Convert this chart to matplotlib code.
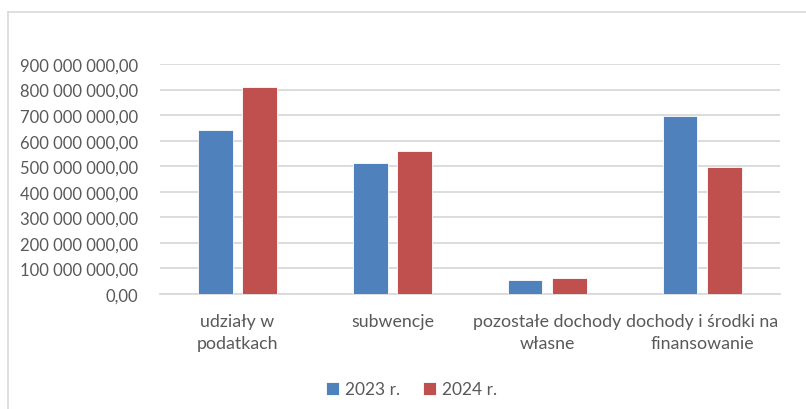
import numpy as np
from matplotlib import pyplot as plt
from matplotlib.ticker import FuncFormatter

categories = ['udziały w\npodatkach', 'subwencje', 'pozostałe dochody\nwłasne',
              'dochody i środki na\nfinansowanie']
series_names = ['2023 r.', '2024 r.']
values_2023 = [640e6, 511e6, 55e6, 697e6]
values_2024 = [808e6, 560e6, 64e6, 497e6]

text_color = '#595959'
grid_color = '#d9d9d9'

plt.rcParams['font.family'] = ['Lato', 'DejaVu Sans']

fig = plt.figure(figsize=(8.06, 4.10), dpi=100)
ax = fig.add_axes([0.1985, 0.2805, 0.769, 0.561])

x = np.arange(len(categories))
width = 0.223
ax.bar(x - 0.143, values_2023, width, color='#4f81bd', edgecolor='white',
       linewidth=0.6, label=series_names[0], zorder=3)
ax.bar(x + 0.143, values_2024, width, color='#c0504d', edgecolor='white',
       linewidth=0.6, label=series_names[1], zorder=3)

ax.set_xlim(-0.5, len(categories) - 0.5)
ax.set_ylim(0, 900e6)
ax.set_yticks(np.arange(0, 900e6 + 1, 100e6))


def pl_format(v, pos):
    s = '{:,.2f}'.format(v).replace(',', ' ').replace('.', ',')
    return s


ax.yaxis.set_major_formatter(FuncFormatter(pl_format))
ax.set_xticks(x)
ax.set_xticklabels(categories, linespacing=1.45, fontsize=12.8)
ax.yaxis.grid(True, color=grid_color, linewidth=1.3, zorder=0)
for s in ['top', 'right', 'left']:
    ax.spines[s].set_visible(False)
ax.spines['bottom'].set_color(grid_color)
ax.spines['bottom'].set_linewidth(1.3)
ax.tick_params(axis='both', length=0, labelsize=12, colors=text_color)
ax.tick_params(axis='x', pad=14, labelsize=12.8)
ax.tick_params(axis='y', pad=16)

ax.legend(loc='center', bbox_to_anchor=(0.406, -0.415), ncol=2, frameon=False,
          fontsize=12.5, labelcolor=text_color, handlelength=0.75, handleheight=0.75,
          handletextpad=0.35, columnspacing=1.3)

# chart border (only left and top visible in the reference)
fig.add_artist(plt.Line2D([8 / 806, 8 / 806], [0, 1 - 13 / 410], color=grid_color,
                          linewidth=1.2, transform=fig.transFigure))
fig.add_artist(plt.Line2D([8 / 806, 1], [1 - 13 / 410, 1 - 13 / 410], color=grid_color,
                          linewidth=1.2, transform=fig.transFigure))

fig.savefig('out.png', dpi=100)
